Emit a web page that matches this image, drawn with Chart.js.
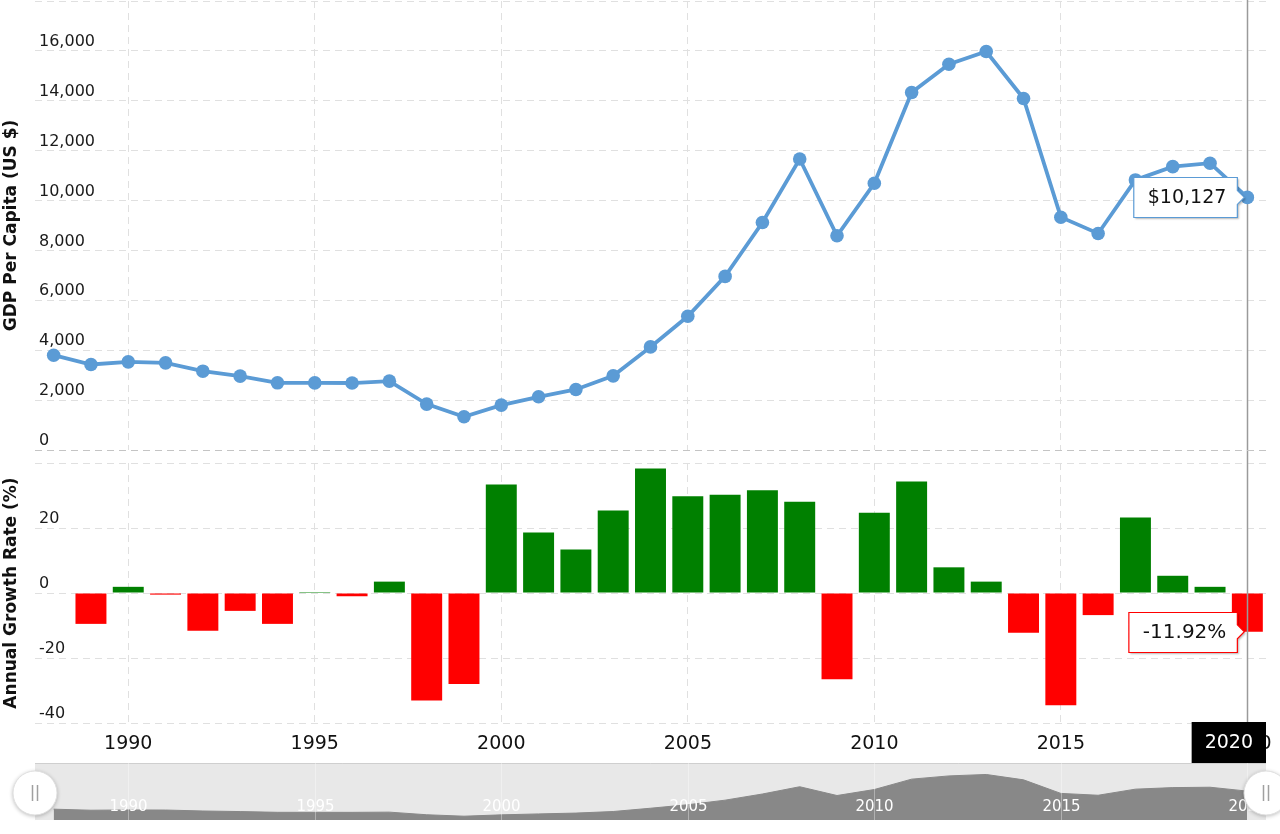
<!DOCTYPE html>
<html>
<head>
<meta charset="utf-8">
<script src="https://cdn.jsdelivr.net/npm/chart.js@4.4.0/dist/chart.umd.min.js"></script>
<style>
html,body{margin:0;padding:0;background:#fff;width:1280px;height:834px;overflow:hidden}
#wrap{position:relative;width:1280px;height:834px}
#wrap canvas{position:absolute;left:0;top:0}
</style>
</head>
<body>
<div id="wrap">
<canvas id="cNav" width="1280" height="834"></canvas>
<canvas id="cGrowth" width="1280" height="834"></canvas>
<canvas id="cGdp" width="1280" height="834"></canvas>
</div>
<script>
// ---------------- DATA ----------------
const years = [1988,1989,1990,1991,1992,1993,1994,1995,1996,1997,1998,1999,2000,2001,2002,2003,2004,2005,2006,2007,2008,2009,2010,2011,2012,2013,2014,2015,2016,2017,2018,2019,2020];
const gdpPerCapita = [3800,3427,3533,3493,3160,2960,2693,2690,2685,2760,1840,1333,1800,2133,2427,2973,4133,5360,6960,9120,11668,8587,10693,14333,15467,15973,14093,9333,8680,10827,11360,11497,10127];
const growthRate = [null,-9.5,1.9,-0.5,-11.6,-5.5,-9.5,0.3,-1.0,3.5,-33.1,-28.0,33.4,18.6,13.4,25.4,38.3,29.8,30.2,31.6,28.1,-26.5,24.7,34.3,7.9,3.5,-12.2,-34.5,-6.8,23.2,5.3,1.9,-11.92];
const xTickYears = [1990,1995,2000,2005,2010,2015,2020];
const gdpTicks = [0,2000,4000,6000,8000,10000,12000,14000,16000];
const growthTicks = [-40,-20,0,20];
const highlightYear = 2020;

// ---------------- STYLE ----------------
const FONT = '"DejaVu Sans", Verdana, sans-serif';
const GRID = '#e0e0e0';
const LINE = '#5b9bd5';
const GREEN = '#008000';
const RED = '#ff0000';
const HI = years.indexOf(highlightYear);

function xAxis(showTicks) {
  return {
    type: 'category',
    offset: true,
    grid: {
      offset: false, drawTicks: false, lineWidth: 1,
      color: c => (c.tick && xTickYears.includes(years[c.tick.value])) ? GRID : 'rgba(0,0,0,0)'
    },
    border: { display: false, dash: [7, 5] },
    ticks: {
      display: showTicks, autoSkip: false, maxRotation: 0, minRotation: 0, padding: 10,
      font: { family: FONT, size: 19 }, color: '#111',
      callback: (v, i) => xTickYears.includes(years[i]) ? String(years[i]) : ''
    },
    afterFit: s => { s.height = showTicks ? 45 : 0; s.paddingLeft = 0; s.paddingRight = 0; }
  };
}

function yAxis(min, max, ticksShown, title, zeroDark) {
  return {
    min: min, max: max,
    afterBuildTicks: s => { s.ticks = [...ticksShown, max].map(v => ({ value: v })); },
    grid: {
      drawTicks: false, lineWidth: 1,
      color: c => (zeroDark && c.tick && c.tick.value === min) ? '#c4c4c4' : GRID
    },
    border: { display: false, dash: [7, 5] },
    ticks: {
      mirror: true, padding: 4, labelOffset: -9,
      font: { family: FONT, size: 16 }, color: '#1a1a1a',
      callback: v => ticksShown.includes(v) ? v.toLocaleString('en-US') : ''
    },
    title: {
      display: true, text: title, color: '#111',
      font: { family: FONT, size: 17, weight: 'bold' },
      padding: { top: 1, bottom: 0 }
    },
    afterFit: s => { s.width = 35; s.paddingTop = 0; s.paddingBottom = 0; }
  };
}

function drawTip(ctx, px, py, text, border, fontSize) {
  ctx.save();
  ctx.font = fontSize + 'px ' + FONT;
  const tw = ctx.measureText(text).width;
  const w = tw + 25, h = 40;
  const right = px - 10, left = right - w, top = Math.round(py - h / 2) + 0.5;
  ctx.beginPath();
  ctx.moveTo(left, top);
  ctx.lineTo(right, top);
  ctx.lineTo(right, py - 7);
  ctx.lineTo(px - 3, py);
  ctx.lineTo(right, py + 7);
  ctx.lineTo(right, top + h);
  ctx.lineTo(left, top + h);
  ctx.closePath();
  ctx.shadowColor = 'rgba(0,0,0,0.28)';
  ctx.shadowOffsetX = 1.5; ctx.shadowOffsetY = 1.5; ctx.shadowBlur = 2;
  ctx.fillStyle = '#ffffff';
  ctx.fill();
  ctx.shadowColor = 'transparent';
  ctx.lineWidth = 1.2;
  ctx.strokeStyle = border;
  ctx.stroke();
  ctx.fillStyle = '#111';
  ctx.textAlign = 'left';
  ctx.textBaseline = 'middle';
  ctx.fillText(text, left + 14, py + 1);
  ctx.restore();
}

Chart.defaults.font.family = FONT;

// ---------------- TOP: GDP per capita ----------------
new Chart(document.getElementById('cGdp'), {
  type: 'line',
  data: {
    labels: years,
    datasets: [{
      data: gdpPerCapita,
      borderColor: LINE, backgroundColor: LINE, borderWidth: 3.8,
      pointRadius: 6.8, pointBackgroundColor: LINE, pointBorderWidth: 0,
      tension: 0, fill: false
    }]
  },
  options: {
    responsive: false, animation: false, events: [],
    layout: { autoPadding: false, padding: { top: 1, left: 0, right: 14, bottom: 384 } },
    plugins: { legend: { display: false }, tooltip: { enabled: false } },
    scales: {
      x: xAxis(false),
      y: yAxis(0, 18000, gdpTicks, 'GDP Per Capita (US $)', true)
    }
  },
  plugins: [{
    id: 'crossTop',
    beforeDatasetsDraw(chart) {
      const ctx = chart.ctx, a = chart.chartArea;
      const x = Math.round(chart.scales.x.getPixelForValue(HI)) + 0.5;
      ctx.save();
      ctx.strokeStyle = '#9a9a9a'; ctx.lineWidth = 1.5;
      ctx.beginPath(); ctx.moveTo(x, 0); ctx.lineTo(x, a.bottom); ctx.stroke();
      ctx.restore();
    },
    afterDraw(chart) {
      const pt = chart.getDatasetMeta(0).data[HI];
      drawTip(chart.ctx, pt.x, pt.y, '$' + gdpPerCapita[HI].toLocaleString('en-US'), LINE, 19);
    }
  }]
});

// ---------------- MIDDLE: growth rate ----------------
new Chart(document.getElementById('cGrowth'), {
  type: 'bar',
  data: {
    labels: years,
    datasets: [{
      data: growthRate,
      backgroundColor: c => (c.raw >= 0 ? GREEN : RED),
      borderWidth: 0,
      categoryPercentage: 1, barPercentage: 0.83
    }]
  },
  options: {
    responsive: false, animation: false, events: [],
    layout: { autoPadding: false, padding: { top: 463, left: 0, right: 14, bottom: 66 } },
    plugins: { legend: { display: false }, tooltip: { enabled: false } },
    scales: {
      x: xAxis(true),
      y: yAxis(-40, 40, growthTicks, 'Annual Growth Rate (%)', false)
    }
  },
  plugins: [{
    id: 'crossBottom',
    afterDatasetsDraw(chart) {
      const ctx = chart.ctx, a = chart.chartArea;
      const x = Math.round(chart.scales.x.getPixelForValue(HI)) + 0.5;
      ctx.save();
      ctx.strokeStyle = '#9a9a9a'; ctx.lineWidth = 1.5;
      ctx.beginPath(); ctx.moveTo(x, a.top - 13); ctx.lineTo(x, a.bottom); ctx.stroke();
      ctx.restore();
    },
    afterDraw(chart) {
      const ctx = chart.ctx, a = chart.chartArea;
      const el = chart.getDatasetMeta(0).data[HI];
      drawTip(ctx, chart.scales.x.getPixelForValue(HI), el.y, growthRate[HI].toFixed(2) + '%', RED, 20);
      // x crosshair label
      ctx.save();
      ctx.font = '19px ' + FONT;
      const txt = String(highlightYear);
      const w = ctx.measureText(txt).width + 26, h = 41;
      const px = chart.scales.x.getPixelForValue(HI);
      let left = px - w / 2;
      if (left + w > a.right) left = a.right - w;
      const top = a.bottom - 1;
      ctx.fillStyle = '#000';
      ctx.fillRect(left, top, w, h);
      ctx.fillStyle = '#fff';
      ctx.textAlign = 'center'; ctx.textBaseline = 'middle';
      ctx.fillText(txt, left + w / 2, top + h / 2 + 1);
      ctx.restore();
    }
  }]
});

// ---------------- BOTTOM: navigator ----------------
new Chart(document.getElementById('cNav'), {
  type: 'line',
  data: {
    labels: years,
    datasets: [{
      data: gdpPerCapita,
      borderColor: '#888888', backgroundColor: '#888888', borderWidth: 1,
      pointRadius: 0, fill: 'origin', tension: 0
    }]
  },
  options: {
    responsive: false, animation: false, events: [],
    layout: { autoPadding: false, padding: { top: 763, left: 35, right: 14, bottom: 14 } },
    plugins: { legend: { display: false }, tooltip: { enabled: false } },
    scales: {
      x: { type: 'category', offset: true, display: false },
      y: { min: 0, max: 20000, display: false }
    }
  },
  plugins: [{
    id: 'navBg',
    beforeDatasetsDraw(chart) {
      const ctx = chart.ctx, a = chart.chartArea;
      ctx.save();
      ctx.fillStyle = '#e8e8e8';
      ctx.fillRect(a.left, a.top, a.right - a.left, a.bottom - a.top);
      ctx.strokeStyle = '#cfcfcf'; ctx.lineWidth = 1;
      ctx.beginPath(); ctx.moveTo(a.left, a.top + 0.5); ctx.lineTo(a.right, a.top + 0.5); ctx.stroke();
      ctx.restore();
    },
    afterDatasetsDraw(chart) {
      const ctx = chart.ctx, a = chart.chartArea, xs = chart.scales.x;
      ctx.save();
      ctx.strokeStyle = 'rgba(255,255,255,0.35)'; ctx.lineWidth = 1;
      ctx.font = '15px ' + FONT; ctx.fillStyle = '#ffffff';
      ctx.textAlign = 'center'; ctx.textBaseline = 'middle';
      years.forEach((yr, i) => {
        if (!xTickYears.includes(yr)) return;
        const x = Math.round(xs.getPixelForValue(i)) + 0.5;
        ctx.beginPath(); ctx.moveTo(x, a.top); ctx.lineTo(x, a.bottom); ctx.stroke();
        ctx.fillText(String(yr), x, a.bottom - 13);
      });
      ctx.restore();
    },
    afterDraw(chart) {
      const ctx = chart.ctx, a = chart.chartArea;
      const cy = (a.top + a.bottom) / 2 + 1.5;
      [a.left, a.right].forEach(cx => {
        ctx.save();
        ctx.shadowColor = 'rgba(0,0,0,0.3)'; ctx.shadowBlur = 4; ctx.shadowOffsetX = 0; ctx.shadowOffsetY = 1;
        ctx.fillStyle = '#ffffff';
        ctx.beginPath(); ctx.arc(cx, cy, 22, 0, Math.PI * 2); ctx.fill();
        ctx.shadowColor = 'transparent';
        ctx.strokeStyle = '#e0e0e0'; ctx.lineWidth = 1; ctx.stroke();
        ctx.strokeStyle = '#a0a0a0'; ctx.lineWidth = 1.5;
        ctx.beginPath();
        ctx.moveTo(cx - 2.5, cy - 8); ctx.lineTo(cx - 2.5, cy + 8);
        ctx.moveTo(cx + 2.5, cy - 8); ctx.lineTo(cx + 2.5, cy + 8);
        ctx.stroke();
        ctx.restore();
      });
    }
  }]
});
</script>
</body>
</html>
